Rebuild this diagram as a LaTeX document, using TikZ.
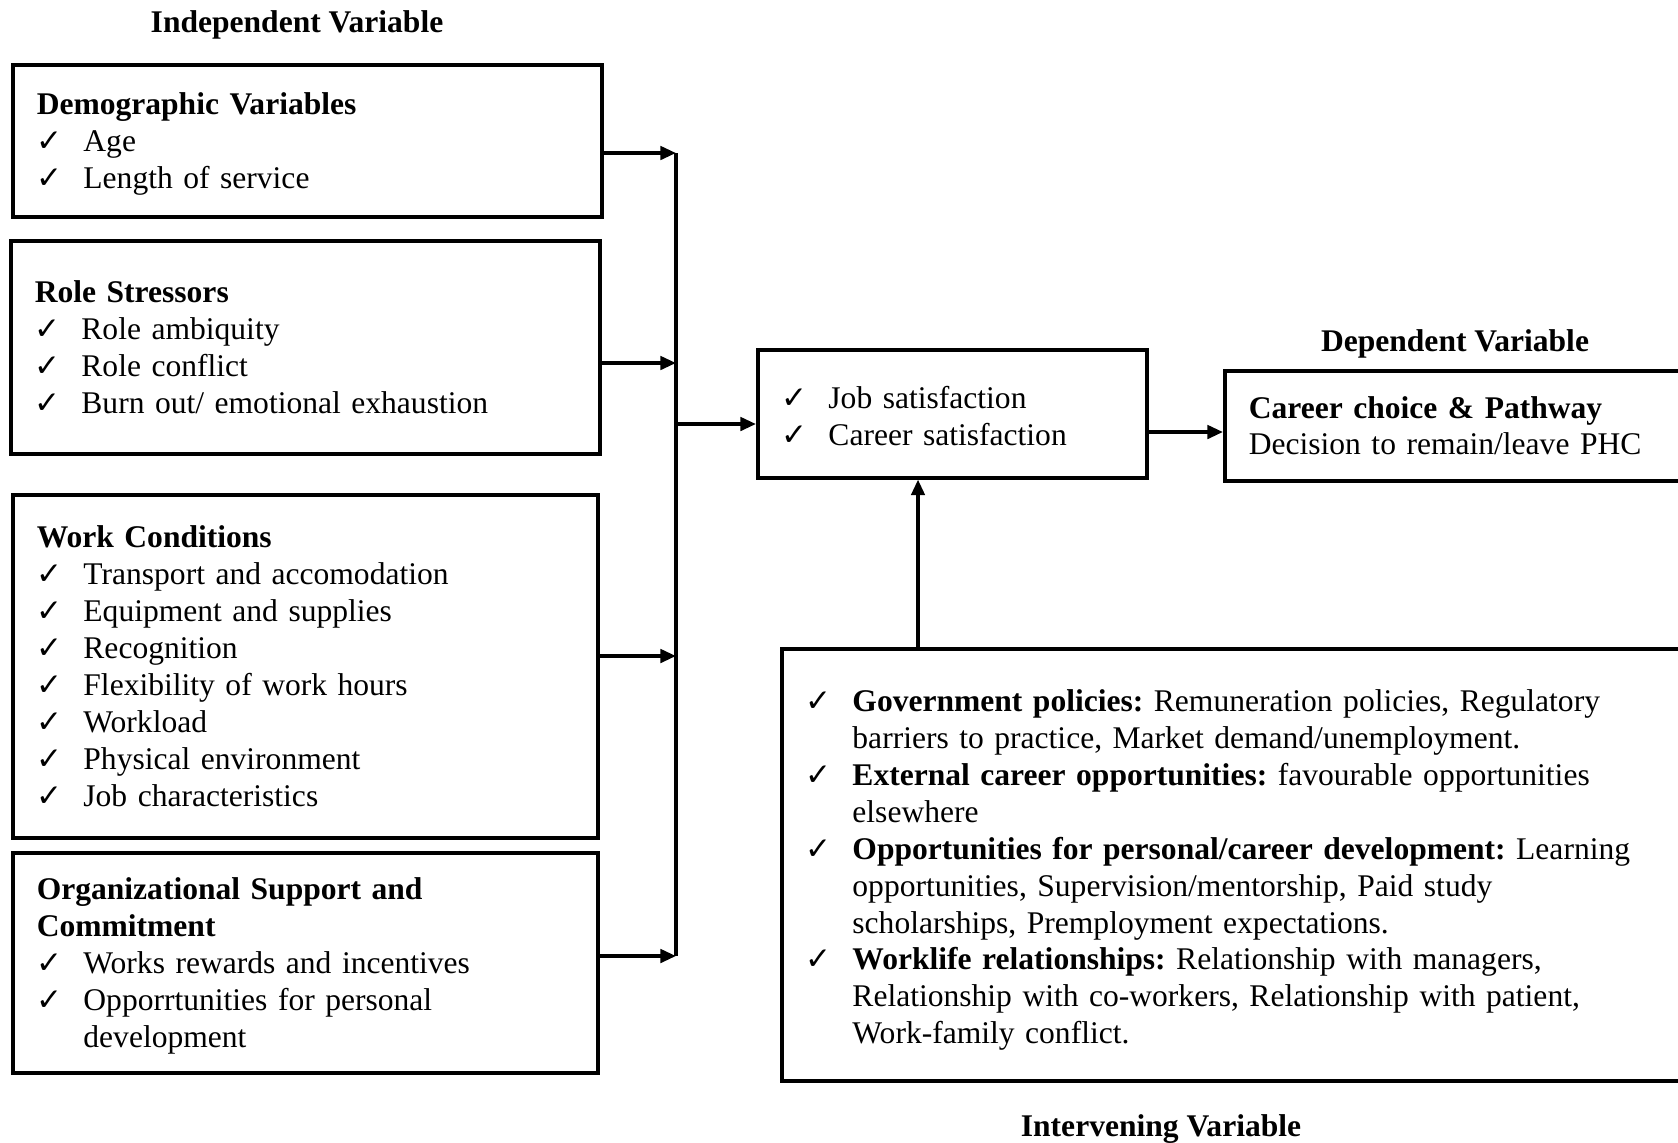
\documentclass[tikz,border=0pt]{standalone}
\usepackage{fontspec}
\setmainfont{Liberation Serif}
\newfontfamily\chkfont{DejaVu Sans}
\usetikzlibrary{arrows.meta}
\frenchspacing
\newcommand{\itm}[1]{\par\hangindent=21pt\hangafter=1\noindent\makebox[21pt][l]{\raisebox{0pt}[0pt][0pt]{\chkfont\fontsize{14}{14}\selectfont\char"2713}}\strut#1\strut\par}
\newcommand{\topstrut}{\rule{0pt}{14.6pt}}
\begin{document}
\begin{tikzpicture}[x=0.45pt,y=-0.45pt]
	\tikzset{every node/.style={font=\fontsize{14.2}{16.6}\selectfont},
		varbox/.style={draw, line width=1.6pt, anchor=north west, align=left, inner xsep=10.8pt, inner ysep=0pt},
		arr/.style={line width=1.6pt, -{Triangle[length=7pt,width=6pt]}}
	}
	\clip (0,0) rectangle (1678,1142);
	% titles
	\node (ivt) at (297,25) {\textbf{Independent Variable}};
	\node (dvt) at (1455,344) {\textbf{Dependent Variable}};
	\node (invt) at (1161,1129) {\textbf{Intervening Variable}};
	% independent variables
	\node (iv1) at (11,63) [varbox, text width=243.45pt, minimum height=68.4pt] {\topstrut\textbf{Demographic Variables}
		\itm{Age}\itm{Length of service}};
	\node (iv2) at (9,239) [varbox, text width=243.45pt, minimum height=95.85pt] {\topstrut\textbf{Role Stressors}
		\itm{Role ambiquity}\itm{Role conflict}\itm{Burn out/ emotional exhaustion}};
	\node (iv3) at (11,493) [varbox, text width=241.65pt, minimum height=154.35pt] {\topstrut\textbf{Work Conditions}
		\itm{Transport and accomodation}\itm{Equipment and supplies}\itm{Recognition}
		\itm{Flexibility of work hours}\itm{Workload}\itm{Physical environment}\itm{Job characteristics}};
	\node (iv4) at (11,851) [varbox, text width=241.65pt, minimum height=99pt] {\topstrut\textbf{Organizational Support and}\newline\textbf{Commitment}
		\itm{Works rewards and incentives}\itm{Opporrtunities for personal\newline development}};
	% middle and dependent
	\node (mv) at (756,348) [varbox, text width=153.45pt, minimum height=57.6pt] {\itm{Job satisfaction}\itm{Career satisfaction}};
	\node (dv) at (1223,369) [varbox, text width=212.4pt, minimum height=49.5pt] {\topstrut\textbf{Career choice \& Pathway}\newline Decision to remain/leave PHC\strut};
	% intervening
	\node (inv) at (780,647) [varbox, text width=410.4pt, minimum height=194.4pt] {%
		\itm{\textbf{Government policies:} Remuneration policies, Regulatory\newline barriers to practice, Market demand/unemployment.}
		\itm{\textbf{External career opportunities:} favourable opportunities\newline elsewhere}
		\itm{\textbf{Opportunities for personal/career development:} Learning\newline opportunities, Supervision/mentorship, Paid study\newline scholarships, Premployment expectations.}
		\itm{\textbf{Worklife relationships:} Relationship with managers,\newline Relationship with co-workers, Relationship with patient,\newline Work-family conflict.}};
	% connectors
	\coordinate (b1) at (676,153);
	\coordinate (b2) at (676,363);
	\coordinate (b3) at (676,656);
	\coordinate (b4) at (676,956);
	\coordinate (b5) at (676,424);
	\coordinate (c1) at (1145,432);
	\coordinate (va) at (918,0);
	\draw[line width=1.6pt] (b1) -- (b4);
	\draw[arr] (iv1.east |- b1) -- (b1);
	\draw[arr] (iv2.east |- b2) -- (b2);
	\draw[arr] (iv3.east |- b3) -- (b3);
	\draw[arr] (iv4.east |- b4) -- (b4);
	\draw[arr] (b5) -- (mv.west |- b5);
	\draw[arr] (mv.east |- c1) -- (dv.west |- c1);
	\draw[arr] (inv.north -| va) -- (mv.south -| va);
\end{tikzpicture}
\end{document}
